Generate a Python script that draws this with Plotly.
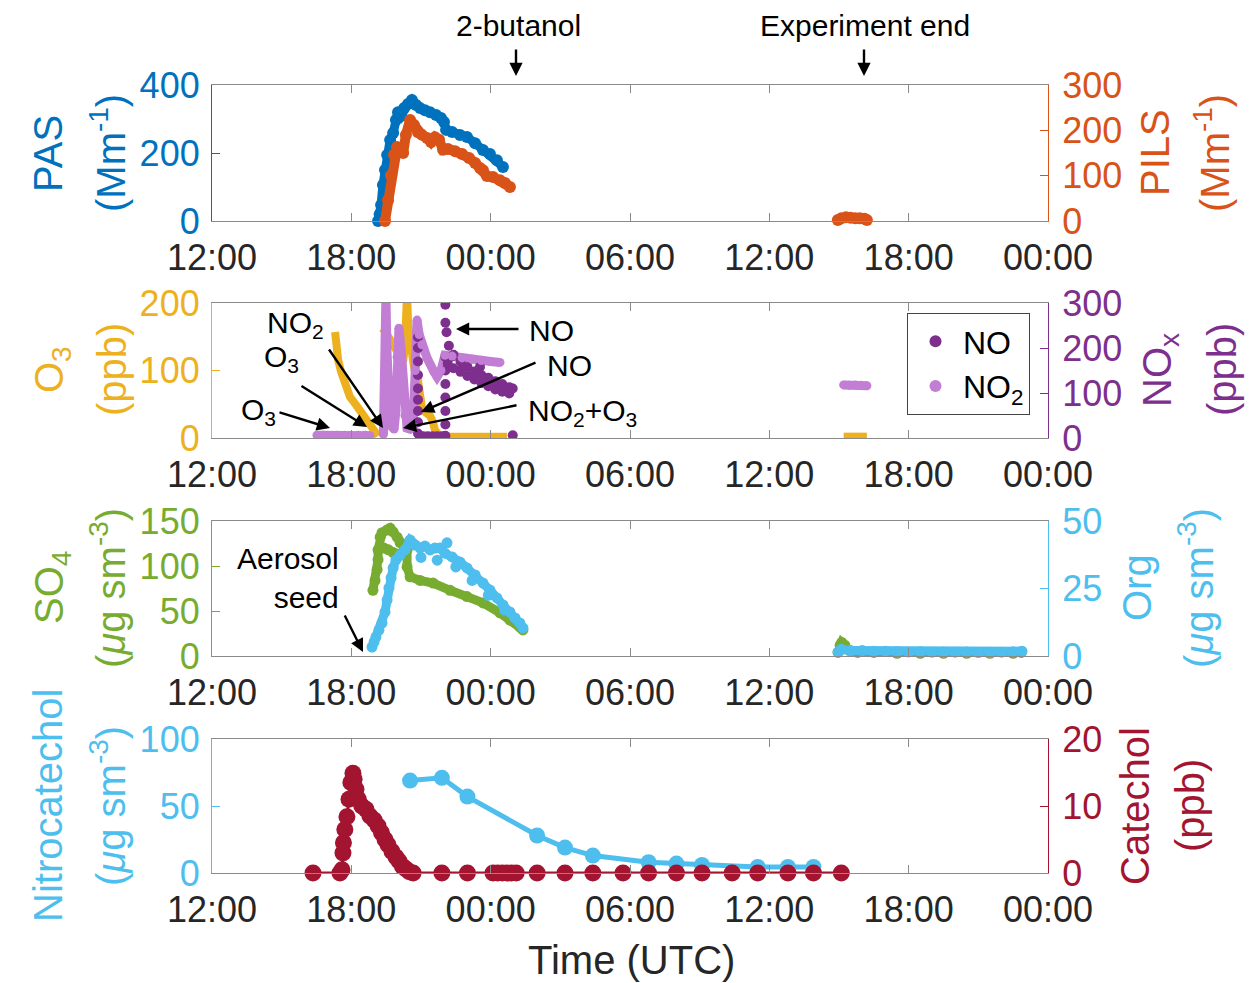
import plotly.graph_objects as go

FONT = "Liberation Sans, Arial, sans-serif"
W, H = 1254, 983          # browser window
OFF = 8                   # default page margin around the plot div
FW, FH = W - OFF, H - OFF # figure size

# ---------------- data (time = hours after 12:00 UTC of day 1) ----------------
tick_hours = [0, 6, 12, 18, 24, 30, 36]
tick_labels = ["12:00", "18:00", "00:00", "06:00", "12:00", "18:00", "00:00"]

# Panel 1: PAS (left, Mm-1) and PILS (right, Mm-1)
pas_t = [7.15, 7.22, 7.28, 7.36, 7.45, 7.54, 7.67, 7.80, 7.92, 8.01, 8.14, 8.27, 8.44, 8.61, 8.79,
         8.96, 9.17, 9.39, 9.65, 9.86, 9.99, 10.08, 10.34, 10.68, 10.98, 11.33, 11.67, 11.97, 12.27, 12.53]
pas_v = [0, 20, 47, 106, 150, 194, 238, 259, 297, 320, 309, 332, 344, 356, 341,
         332, 326, 320, 312, 303, 291, 268, 262, 253, 247, 229, 209, 197, 179, 159]
pils_t = [7.45, 7.58, 7.71, 7.84, 7.97, 8.10, 8.23, 8.35, 8.53, 8.70, 8.87, 9.04, 9.26, 9.43, 9.60,
          9.78, 9.95, 10.16, 10.47, 10.77, 11.07, 11.33, 11.54, 11.67, 11.84, 12.10, 12.40, 12.62, 12.83,
          None, 26.95, 27.1, 27.3, 27.5, 27.7, 27.9, 28.1, 28.2]
pils_v = [0, 46, 101, 146, 163, 157, 150, 190, 223, 212, 196, 190, 183, 174, 185,
          179, 157, 159, 154, 148, 139, 128, 117, 112, 99, 97, 90, 84, 75,
          None, 2, 6, 8, 7, 6, 6, 5, 2]

# Panel 2: O3 (left, ppb), NO and NO2 (right, ppb)
o3_t = [5.30, 5.34, 5.43, 5.56, 5.73, 5.94, 6.20, 6.46, 6.72, 6.93, 7.15,
        None, 7.32, 7.45, 7.58, 7.75, 7.92, 8.10, 8.23, 8.31, 8.35, 8.40, 8.45, 8.55, 8.70,
        8.87, 8.96, 9.04, 9.20, 9.39, 9.50, 9.60, 9.75, 9.90, 10.3, 10.8, 11.3, 11.8, 12.3, 12.7,
        None, 27.2, 27.5, 27.8, 28.2]
o3_v = [157, 138, 116, 98, 79, 61, 49, 37, 27, 15, 3,
        None, 163, 159, 151, 142, 130, 120, 113, 138, 175, 215, 165, 130, 105,
        85, 60, 45, 38, 33, 25, 12, 5, 2, 2, 2, 2, 2, 2, 2,
        None, 2, 2, 2, 2]
no2_t = [4.52, 4.8, 5.1, 5.4, 5.7, 6.0, 6.3, 6.6, 6.8,
         None, 7.38, 7.45, 7.49, 7.53, 7.58, 7.66, 7.75, 7.84, 7.92, 7.97, 8.05, 8.14, 8.23, 8.31,
         8.40, 8.53, 8.66, 8.75, 8.83, 8.92, 9.04, 9.26, 9.56, 9.69, 9.86, 10.03, 10.34, 10.77,
         11.2, 11.6, 12.0, 12.4,
         None, 27.2, 27.45, 27.7, 27.95, 28.2]
no2_v = [6, 6, 5, 6, 6, 5, 6, 6, 5,
         None, 8, 120, 320, 200, 90, 45, 25, 20, 60, 180, 244, 200, 120, 50,
         22, 20, 25, 150, 262, 230, 207, 178, 147, 136, 150, 184, 182, 178,
         175, 172, 170, 168,
         None, 118, 117, 118, 117, 116]
no_t = [8.87, 8.87, 8.87, 8.87, 8.87, 8.87, 8.87, 8.87, 8.87,
        8.95, 9.1, 9.3, 9.5, 9.7, 9.9,
        10.05, 10.05, 10.05, 10.05, 10.05, 10.05, 10.05, 10.05, 10.05,
        10.1, 10.2, 10.4, 10.7, 11.0, 11.3, 11.6, 11.9, 12.2, 12.5, 12.8, 12.95,
        10.15, 10.4, 10.7, 11.0, 11.3, 11.6, 11.9, 12.2, 12.5, 12.8,
        10.3, 10.8, 11.4, 12.0, 12.6,
        11.54, 12.95]
no_v = [10, 35, 60, 85, 110, 140, 170, 200, 224,
        4, 4, 4, 4, 4, 4,
        5, 30, 60, 90, 120, 150, 180, 256, 296,
        235, 205, 185, 170, 158, 148, 140, 134, 126, 120, 113, 110,
        165, 155, 147, 138, 130, 122, 115, 108, 103, 99,
        180, 158, 140, 122, 110,
        158, 6]

# Panel 3: SO4 (left, ug sm-3) and Org (right, ug sm-3)
so4_t = [6.93, 7.02, 7.11, 7.15, 7.15, 7.24, 7.32, 7.54, 7.67, 7.80, 7.97, 8.10, 8.27, 8.40,
         8.40, 8.53, 8.96, 9.52, 10.25, 10.98, 11.67, 12.40, 12.83, 13.26, 13.39,
         None, 7.40, 7.60, 7.80, 8.00,
         None, 26.96, 27.05, 27.12, 27.25, 27.45, 27.8, 28.5, 29.5, 30.5, 31.5, 32.5, 33.5, 34.5, 34.85]
so4_v = [73, 84, 96, 107, 118, 132, 137, 140, 142, 138, 132, 126, 121, 118,
         99, 88, 84, 81, 73, 66, 59, 48, 40, 32, 29,
         None, 120, 118, 115, 113,
         None, 4, 12, 15, 12, 6, 4, 4, 3, 3, 3, 3, 3, 3, 4]
org_t = [6.89, 6.98, 7.06, 7.19, 7.32, 7.45, 7.54, 7.62, 7.71, 7.80, 7.92, 8.10, 8.31, 8.53,
         8.74, 8.96, 9.17, 9.39, 9.60, 9.82, 10.03, 10.34, 10.68, 10.98, 11.33, 11.67, 11.97,
         12.27, 12.53, 12.83, 13.05, 13.26, 13.39,
         None, 26.96, 27.1, 27.5, 28.0, 28.5, 29.0, 29.5, 30.0, 30.5, 31.0, 31.5, 32.0, 32.5,
         33.0, 33.5, 34.0, 34.5, 34.88]
org_v = [3.3, 5.2, 7.0, 9.6, 12.2, 16.3, 20.7, 25.2, 28.9, 32.6, 35.6, 37.4, 39.3, 43.0,
         41.1, 40.0, 40.7, 39.3, 40.0, 40.0, 38.1, 36.7, 34.8, 32.6, 30.0, 27.0, 24.4,
         21.5, 18.9, 16.3, 14.1, 12.2, 10.4,
         None, 1.5, 2.5, 2.0, 2.0, 1.8, 1.8, 1.6, 1.5, 1.6, 1.4, 1.5, 1.4, 1.5,
         1.3, 1.4, 1.4, 1.6, 1.8]
org_extra_t = [10.12, 9.0, 9.7, 10.5, 11.2, 11.9, 12.6]
org_extra_v = [41.9, 36.5, 35.5, 33.0, 28.0, 22.5, 17.0]

# Panel 4: Nitrocatechol (left, ug sm-3) and Catechol (right, ppb)
nitro_t = [8.53, 9.9, 11.0, 14.0, 15.2, 16.4, 18.8, 20.0, 21.1, 23.5, 24.8, 25.9]
nitro_v = [69, 71, 57, 28, 19, 13, 8, 7, 6, 4.5, 4.5, 4.5]
cat_t = [4.35, 5.51, 5.60, 5.64, 5.66, 5.72, 5.81, 5.90, 5.98, 6.07, 6.12, 6.20, 6.30, 6.45,
         6.63, 6.80, 6.98, 7.15, 7.30, 7.45, 7.58, 7.75, 7.92, 8.05, 8.20, 8.35, 8.50, 8.66,
         9.9, 11.0, 12.1, 12.3, 12.5, 12.7, 12.9, 13.1, 14.0, 15.2, 16.4, 17.7, 18.8, 20.0,
         21.1, 22.4, 23.5, 24.8, 25.9, 27.1]
cat_v = [0, 0, 0.5, 3, 4.5, 6.5, 8.4, 11, 13.5, 14.9, 14.0, 12.5, 11, 10,
         9.5, 8.5, 7.9, 7, 6, 5, 4.2, 3.2, 2.4, 1.8, 1, 0.6, 0.2, 0,
         0, 0, 0, 0, 0, 0, 0, 0, 0, 0, 0, 0, 0, 0,
         0, 0, 0, 0, 0, 0]

# ---------------- colours ----------------
C_PAS = "#0072BD"
C_PILS = "#D95319"
C_O3 = "#EDB120"
C_NO = "#7E2F8E"
C_NO2 = "#C27ED4"
C_SO4 = "#77AC30"
C_ORG = "#4DBEEE"
C_CAT = "#A2142F"
AX_GRAY = "#8a8a8a"
TXT = "#262626"

# ---------------- layout geometry (window pixels -> paper fractions) ----------------
def fx(x):
    return (x - OFF) / FW
def fy(y):
    return 1 - (y - OFF) / FH

XD = [fx(212), fx(1048)]
def ydom(top, bot):
    return [fy(bot), fy(top)]
YD = [ydom(85, 221), ydom(303, 438), ydom(521, 656), ydom(739, 873)]

fig = go.Figure()

def tr(t, v, xa, ya, color, size, lw=0, mode="lines+markers", clip=False, name=None, legend=False):
    fig.add_trace(go.Scatter(
        x=t, y=v, xaxis=xa, yaxis=ya, mode=mode, name=name, showlegend=legend,
        line=dict(color=color, width=lw), connectgaps=False,
        marker=dict(color=color, size=size, line=dict(width=0)),
        cliponaxis=clip, hoverinfo="skip"))

# panel 1
tr(pas_t, pas_v, "x", "y", C_PAS, 12, 9)
tr(pils_t, pils_v, "x", "y2", C_PILS, 12, 10)
# panel 2
tr(o3_t, o3_v, "x2", "y3", C_O3, 0, 8, mode="lines", clip=True)
tr(no2_t, no2_v, "x2", "y4", C_NO2, 0, 9, mode="lines", clip=True)
tr(no_t, no_v, "x2", "y4", C_NO, 10, mode="markers", clip=True, name="NO", legend=True)
tr(no2_t, no2_v, "x2", "y4", C_NO2, 9, mode="markers", clip=True, name="NO<sub>2</sub>", legend=True)
# panel 3
tr(so4_t, so4_v, "x3", "y5", C_SO4, 11, 9)
tr(org_t, org_v, "x3", "y6", C_ORG, 11, 9)
tr(org_extra_t, org_extra_v, "x3", "y6", C_ORG, 11, mode="markers")
# panel 4
tr(nitro_t, nitro_v, "x4", "y7", C_ORG, 16, 5)
tr(cat_t, cat_v, "x4", "y8", C_CAT, 17, 3)

tickfont_x = dict(family=FONT, size=36, color=TXT)

layout = dict(
    width=FW, height=FH, margin=dict(l=0, r=0, t=0, b=0, autoexpand=False),
    paper_bgcolor="white", plot_bgcolor="white",
    font=dict(family=FONT, size=30, color=TXT),
    showlegend=True,
    legend=dict(x=fx(907), y=fy(313), xanchor="left", yanchor="top",
                bgcolor="white", bordercolor="#444", borderwidth=1,
                font=dict(family=FONT, size=32, color="black"),
                itemsizing="constant", itemwidth=45, tracegroupgap=0),
)

panels = [
    ((0, 400), [0, 200, 400], C_PAS, (0, 300), [0, 100, 200, 300], C_PILS),
    ((0, 200), [0, 100, 200], C_O3, (0, 300), [0, 100, 200, 300], C_NO),
    ((0, 150), [0, 50, 100, 150], C_SO4, (0, 50), [0, 25, 50], C_ORG),
    ((0, 100), [0, 50, 100], C_ORG, (0, 20), [0, 10, 20], C_CAT),
]

for i, (lr, lt, lc, rr, rt, rc) in enumerate(panels):
    n = i + 1
    xk = "xaxis" if n == 1 else f"xaxis{n}"
    yl = 2 * n - 1
    yr = 2 * n
    ylk = "yaxis" if yl == 1 else f"yaxis{yl}"
    yrk = f"yaxis{yr}"
    layout[xk] = dict(domain=XD, range=[0, 36], tickvals=tick_hours, ticktext=tick_labels,
                      anchor="y" if yl == 1 else f"y{yl}", automargin=False,
                      ticks="inside", ticklen=8, tickwidth=1.2, tickcolor=AX_GRAY,
                      showline=True, linecolor=AX_GRAY, linewidth=1.2, mirror="ticks",
                      showgrid=False, zeroline=False, tickfont=tickfont_x,
                      ticklabelstandoff=5)
    layout[ylk] = dict(domain=YD[i], range=list(lr), tickvals=lt, side="left",
                       anchor="x" if n == 1 else f"x{n}", automargin=False,
                       ticks="inside", ticklen=8, tickwidth=1.2, tickcolor=lc,
                       showline=True, linecolor=lc, linewidth=1.2,
                       showgrid=False, zeroline=False,
                       tickfont=dict(family=FONT, size=36, color=lc), ticklabelstandoff=4)
    layout[yrk] = dict(range=list(rr), tickvals=rt, side="right",
                       overlaying="y" if yl == 1 else f"y{yl}",
                       anchor="x" if n == 1 else f"x{n}", automargin=False,
                       ticks="inside", ticklen=8, tickwidth=1.2, tickcolor=rc,
                       showline=True, linecolor=rc, linewidth=1.2,
                       showgrid=False, zeroline=False,
                       tickfont=dict(family=FONT, size=36, color=rc), ticklabelstandoff=6)

fig.update_layout(**layout)

ann = []
def txt(s, x, y, size=30, color="black", angle=0, xanchor="center", yanchor="middle", align="center"):
    ann.append(dict(text=s, x=fx(x), y=fy(y), xref="paper", yref="paper", showarrow=False,
                    textangle=angle, xanchor=xanchor, yanchor=yanchor, align=align,
                    font=dict(family=FONT, size=size, color=color)))

def arrow(hx, hy, tx, ty):
    ann.append(dict(text="", x=fx(hx), y=fy(hy), xref="paper", yref="paper",
                    showarrow=True, ax=tx - hx, ay=ty - hy, axref="pixel", ayref="pixel",
                    arrowhead=2, arrowsize=1.1, arrowwidth=2.4, arrowcolor="black"))

# axis titles (two lines each, rotated)
TS = 40
txt("PAS", 48, 153, TS, C_PAS, -90)
txt("(Mm<sup>-1</sup>)", 108, 153, TS, C_PAS, -90)
txt("PILS", 1155, 153, TS, C_PILS, -90)
txt("(Mm<sup>-1</sup>)", 1212, 153, TS, C_PILS, -90)
txt("O<sub>3</sub>", 52, 370, TS, C_O3, -90)
txt("(ppb)", 112, 370, TS, C_O3, -90)
txt("NO<sub>x</sub>", 1160, 370, TS, C_NO, -90)
txt("(ppb)", 1222, 370, TS, C_NO, -90)
txt("SO<sub>4</sub>", 52, 588, TS, C_SO4, -90)
txt("(<i>μ</i>g sm<sup>-3</sup>)", 108, 588, TS, C_SO4, -90)
txt("Org", 1137, 588, TS, C_ORG, -90)
txt("(<i>μ</i>g sm<sup>-3</sup>)", 1196, 588, TS, C_ORG, -90)
txt("Nitrocatechol", 48, 806, TS, C_ORG, -90)
txt("(<i>μ</i>g sm<sup>-3</sup>)", 108, 806, TS, C_ORG, -90)
txt("Catechol", 1135, 806, TS, C_CAT, -90)
txt("(ppb)", 1190, 806, TS, C_CAT, -90)

txt("Time (UTC)", 631, 960, 40, TXT)

# top markers
txt("2-butanol", 518, 26, 30)
arrow(516, 76, 516, 48)
txt("Experiment end", 865, 26, 30)
arrow(864, 76, 864, 48)

# panel 2 labels
txt("NO<sub>2</sub>", 265, 324, 30, xanchor="left")
arrow(383, 428, 328, 348)
txt("O<sub>3</sub>", 262, 358, 30, xanchor="left")
arrow(367, 427, 300, 385)
txt("O<sub>3</sub>", 239, 411, 30, xanchor="left")
arrow(330, 428, 278, 412)
txt("NO", 527, 330, 30, xanchor="left")
arrow(456, 329, 520, 329)
txt("NO", 545, 365, 30, xanchor="left")
arrow(421, 412, 537, 362)
txt("NO<sub>2</sub>+O<sub>3</sub>", 526, 412, 30, xanchor="left")
arrow(403, 428, 518, 405)

# panel 3 label
txt("Aerosol<br>seed", 341, 578, 30, xanchor="right", align="right")
arrow(363, 652, 344, 614)

fig.update_layout(annotations=ann)
fig.write_html("out.html")
